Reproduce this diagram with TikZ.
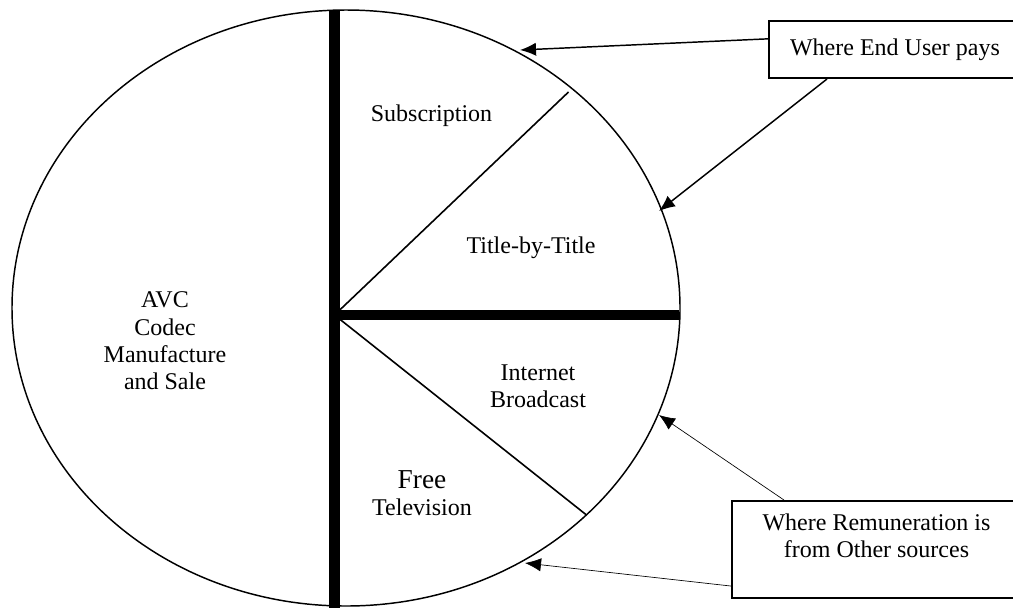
\documentclass[tikz,border=0pt]{standalone}
\usepackage{fontspec}
\setmainfont{Liberation Serif}
\usetikzlibrary{arrows.meta}
\begin{document}
\begin{tikzpicture}[x=0.75pt,y=-0.75pt]
\tikzstyle{part}=[align=center, font=\fontsize{18}{20.5}\selectfont, inner sep=0pt]
\tikzstyle{callout}=[draw, line width=1.5pt, align=center, font=\fontsize{18}{20.5}\selectfont, inner sep=0pt]
\tikzstyle{heavy}=[line width=8pt]
\tikzstyle{divider}=[line width=1.2pt]
\tikzstyle{pointer}=[line width=1.1pt, -{Latex[length=12pt,width=10pt]}]
\tikzstyle{thinpointer}=[line width=0.5pt, -{Latex[length=12pt,width=10pt]}]

\useasboundingbox (0,0) rectangle (1013,608);
\clip (0,0) rectangle (1013,608);

% the market
\draw[line width=1.1pt] (346,308) ellipse [x radius=250.5pt, y radius=223.5pt];

\coordinate (O) at (334.5,315);
\coordinate (top) at (334.5,11);
\coordinate (bottom) at (334.5,608);
\coordinate (east) at (679,315);
\coordinate (upper) at (568.5,92);
\coordinate (lower) at (586.5,515);

\draw[heavy] (top) -- (bottom);
\draw[heavy] (O) -- (east);
\draw[divider] (O) -- (upper);
\draw[divider] (O) -- (lower);

\node[part] (avc) at (165,341) {AVC\\Codec\\Manufacture\\and Sale};
\node[part] (sub) at (431.5,115.5) {Subscription};
\node[part] (title) at (531,248) {Title-by-Title};
\node[part] (inet) at (538,386.5) {Internet\\Broadcast};
\node[part] (free) at (422,493) {{\fontsize{20.5}{22}\selectfont Free}\\Television};

% where the money comes from
\node[callout, minimum width=189pt, minimum height=42.75pt] (userbox) at (895,49.5) {Where End User pays};
\node[callout, minimum width=216.75pt, minimum height=72.75pt] (otherbox) at (876.5,549.5) {Where Remuneration is\\from Other sources\\\mbox{}};

\coordinate (tipA) at (520,50);
\coordinate (tipB) at (659,211);
\coordinate (tipC) at (659,415);
\coordinate (tipD) at (525,563);

\draw[pointer] ([yshift=8pt]userbox.west) -- (tipA);
\draw[pointer] ([xshift=-51pt]userbox.south) -- (tipB);
\draw[thinpointer] ([xshift=-69.4pt]otherbox.north) -- (tipC);
\draw[thinpointer] ([yshift=-27.4pt]otherbox.west) -- (tipD);
\end{tikzpicture}
\end{document}
